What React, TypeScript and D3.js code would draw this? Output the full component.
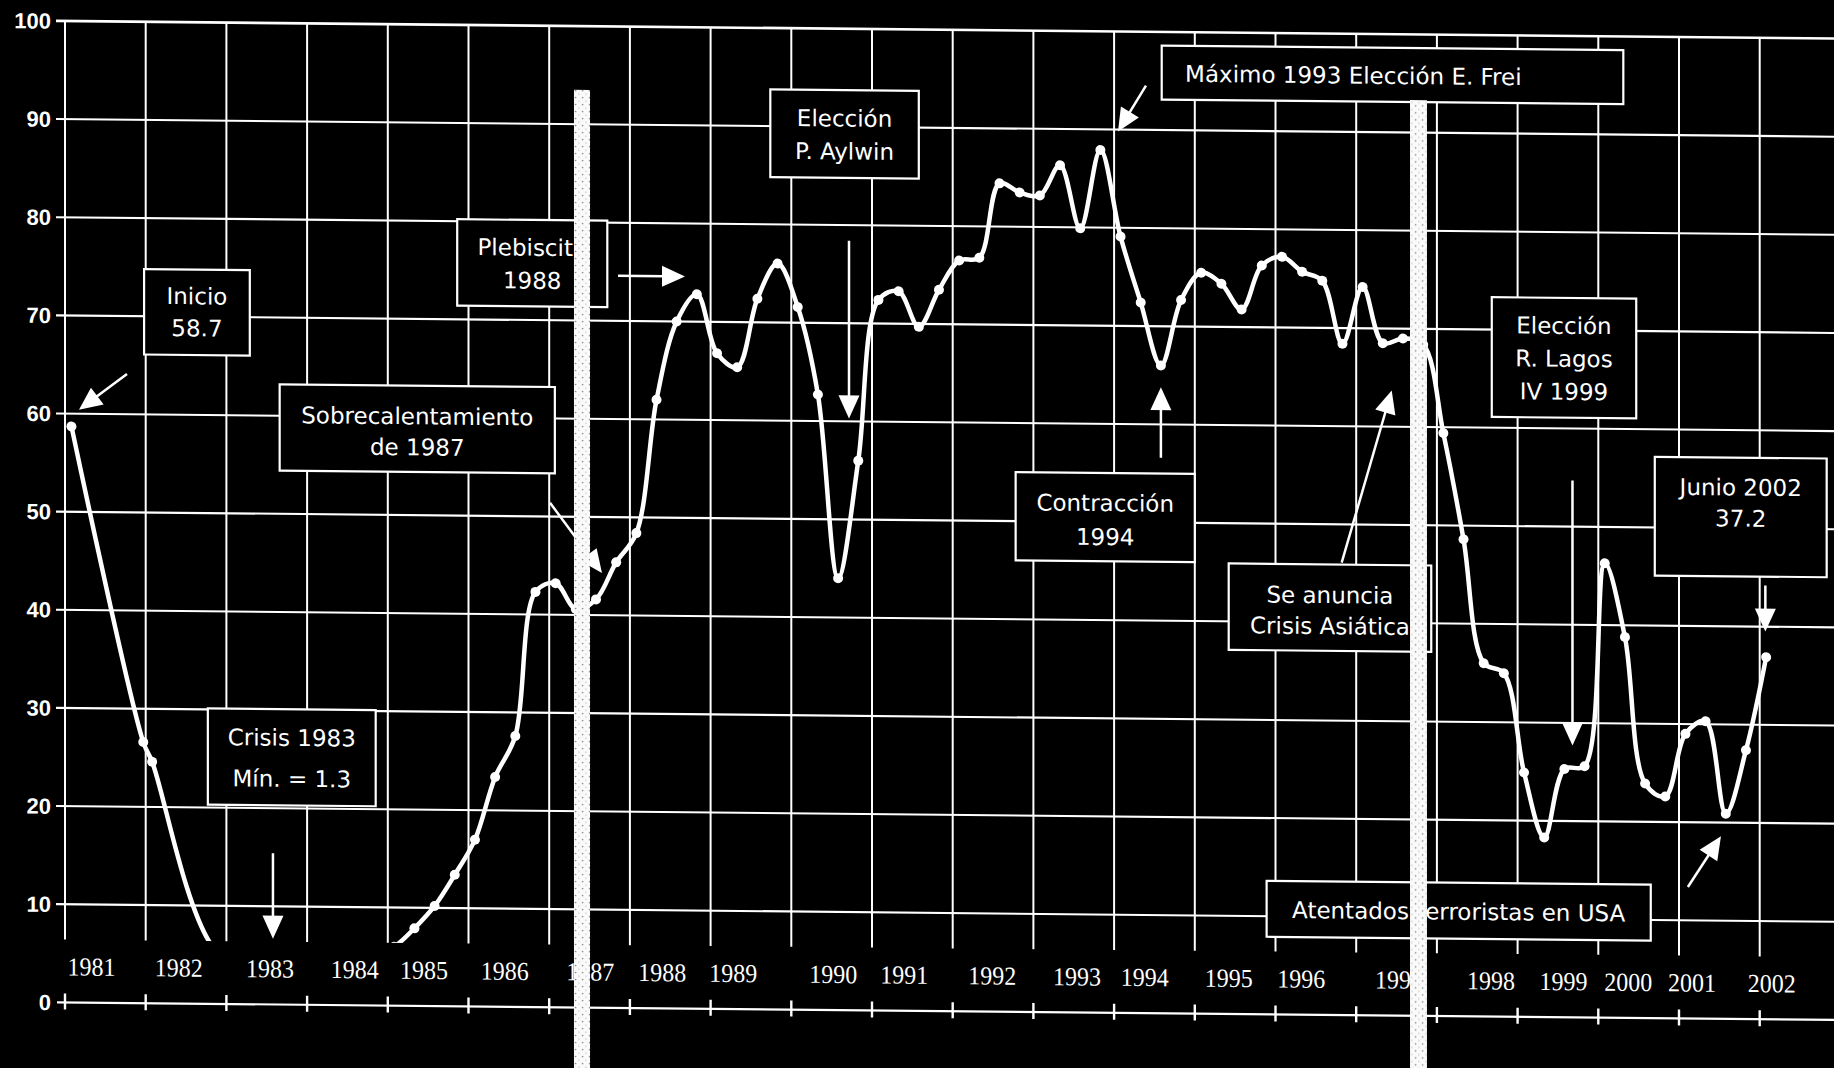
import React from "react";
import * as d3 from "d3";

// ---- data ----
const dates = [
  1981.08, 1981.97, 1982.08, 1982.83, 1983.58, 1984.58, 1985.08, 1985.33, 1985.58, 1985.83,
  1986.08, 1986.33, 1986.58, 1986.83, 1987.08, 1987.33, 1987.58, 1987.83,
  1988.08, 1988.33, 1988.58, 1988.83, 1989.08, 1989.33, 1989.58, 1989.83,
  1990.08, 1990.33, 1990.58, 1990.83, 1991.08, 1991.33, 1991.58, 1991.83,
  1992.08, 1992.33, 1992.58, 1992.83, 1993.08, 1993.33, 1993.58, 1993.83,
  1994.08, 1994.33, 1994.58, 1994.83, 1995.08, 1995.33, 1995.58, 1995.83,
  1996.08, 1996.33, 1996.58, 1996.83, 1997.08, 1997.33, 1997.58, 1997.83,
  1998.08, 1998.33, 1998.58, 1998.83, 1999.08, 1999.33, 1999.58, 1999.83,
  2000.08, 2000.33, 2000.58, 2000.83, 2001.08, 2001.33, 2001.58, 2001.83,
  2002.08,
];
const values = [
  58.7, 26.6, 24.6, 5.8, 1.3, 3.8, 6.0, 7.9, 10.2, 13.4,
  17.0, 23.4, 27.6, 42.3, 43.2, 40.6, 41.6, 45.4,
  48.4, 62.0, 70.0, 72.8, 66.8, 65.4, 72.4, 76.0,
  71.6, 62.7, 44.0, 56.0, 72.4, 73.3, 69.7, 73.5,
  76.5, 76.8, 84.4, 83.5, 83.2, 86.3, 79.9, 87.9,
  79.1, 72.4, 66.0, 72.7, 75.5, 74.4, 71.8, 76.3,
  77.2, 75.7, 74.8, 68.4, 74.2, 68.5, 69.0, 68.4,
  59.4, 48.6, 36.0, 35.0, 24.9, 18.3, 25.3, 25.6,
  46.3, 38.8, 23.9, 22.6, 29.0, 30.3, 20.9, 27.4,
  36.9,
];
const yTicks = [0, 10, 20, 30, 40, 50, 60, 70, 80, 90, 100];
const gridYears = d3.range(1981, 2003);
const yearLabels = [
  "1981", "1982", "1983", "1984", "1985", "1986", "1987", "1988", "1989", "1990", "1991",
  "1992", "1993", "1994", "1995", "1996", "1997", "1998", "1999", "2000", "2001", "2002",
];
const yearLabelAt = [
  1981.33, 1982.41, 1983.54, 1984.59, 1985.45, 1986.45, 1987.51, 1988.40, 1989.28, 1990.52, 1991.40,
  1992.49, 1993.54, 1994.38, 1995.42, 1996.32, 1997.53, 1998.67, 1999.57, 2000.37, 2001.16, 2002.15,
];

// annotation boxes (data units: decimal year, index value)
const boxes = [
  { lines: ["Inicio", "58.7"], x0: 1981.98, x1: 1983.29, v0: 74.8, v1: 66.1, gap: 32, dy: 0 },
  { lines: ["Sobrecalentamiento", "de 1987"], x0: 1983.66, x1: 1987.07, v0: 63.2, v1: 54.4, gap: 31, dy: 3 },
  { lines: ["Plebiscito", "1988"], x0: 1985.86, x1: 1987.72, v0: 80.2, v1: 71.4, gap: 33, dy: 1 },
  { lines: ["Elección", "P. Aylwin"], x0: 1989.74, x1: 1991.58, v0: 93.75, v1: 84.8, gap: 33, dy: 1 },
  { lines: ["Máximo 1993 Elección E. Frei"], x0: 1994.59, x1: 2000.31, v0: 98.6, v1: 93.1, gap: 0, dy: 1, start: 1994.88 },
  { lines: ["Contracción", "1994"], x0: 1992.78, x1: 1995.0, v0: 55.0, v1: 46.0, gap: 34, dy: 3 },
  { lines: ["Se anuncia", "Crisis Asiática"], x0: 1995.42, x1: 1997.93, v0: 45.9, v1: 37.1, gap: 31, dy: 3 },
  { lines: ["Elección", "R. Lagos", "IV 1999"], x0: 1998.68, x1: 2000.47, v0: 73.3, v1: 61.1, gap: 33, dy: 1 },
  { lines: ["Junio 2002", "37.2"], x0: 2000.7, x1: 2002.83, v0: 57.2, v1: 45.1, gap: 31, dy: -14 },
  { lines: ["Atentados terroristas en USA"], x0: 1995.89, x1: 2000.65, v0: 13.6, v1: 7.9, gap: 0, dy: 1 },
  { lines: ["Crisis 1983", "Mín. = 1.3"], x0: 1982.77, x1: 1984.85, v0: 30.1, v1: 20.3, gap: 41, dy: 1 },
];

// arrows: [fromYear, fromValue, toYear, toValue]
const arrows = [
  [1981.768, 64.1, 1981.173, 60.4],
  [1987.853, 74.6, 1988.683, 74.6],
  [1987.01, 51.4, 1987.654, 44.3],
  [1990.715, 78.4, 1990.715, 60.3],
  [1994.395, 94.5, 1994.048, 89.8],
  [1994.58, 56.6, 1994.58, 63.8],
  [1996.82, 46.1, 1997.44, 63.7],
  [1999.68, 54.7, 1999.68, 27.7],
  [2002.07, 44.2, 2002.07, 39.5],
  [2001.11, 13.4, 2001.52, 18.6],
  [1983.577, 15.4, 1983.577, 6.7],
];

// event bars: [startYear, endYear, topValue]
const eventBars = [
  [1987.307, 1987.506, 93.5],
  [1997.667, 1997.877, 93.3],
];

const W = 1834;
const H = 1068;
const CLIP_VALUE = 6.4;

export default function App() {
  const x = d3.scaleLinear().domain([1981, 2002]).range([65, 65 + 80.7 * 21]);
  const y = d3.scaleLinear().domain([0, 100]).range([1002.4, 21.0]);

  const pts = dates.map((d, i) => [x(d), y(values[i])] as [number, number]);
  const line = d3.line().curve(d3.curveCatmullRom.alpha(0.5))(pts) || "";

  const annFont = "'DejaVu Sans', Verdana, sans-serif";
  const yBottom = y(CLIP_VALUE);

  return (
    <div style={{ position: "absolute", left: 0, top: 0, width: W, height: H, background: "#000" }}>
      <svg width={W} height={H} viewBox={`0 0 ${W} ${H}`} style={{ display: "block" }}>
        <defs>
          <clipPath id="plotClip" clipPathUnits="userSpaceOnUse">
            <rect x={0} y={0} width={W + 20} height={yBottom} />
          </clipPath>
          <pattern id="stipple" width="7" height="7" patternUnits="userSpaceOnUse">
            <rect width="7" height="7" fill="#fafafa" />
            <circle cx="1.5" cy="1.5" r="0.8" fill="#777" />
            <circle cx="5" cy="5" r="0.6" fill="#999" />
          </pattern>
        </defs>
        <rect x={0} y={0} width={W} height={H} fill="#000" />
        <g transform="translate(65,0) skewY(0.568) translate(-65,0)">
          {/* horizontal grid */}
          {yTicks.filter((t) => t > 0).map((t) => (
            <line key={"h" + t} x1={56} x2={W + 10} y1={y(t)} y2={y(t)} stroke="#fff" strokeWidth={t === 100 ? 2.6 : 2.1} />
          ))}
          {/* vertical grid */}
          {gridYears.map((yr) => (
            <line key={"v" + yr} x1={x(yr)} x2={x(yr)} y1={y(100)} y2={yBottom} stroke="#fff" strokeWidth={2} />
          ))}
          {/* zero axis */}
          <line x1={57} x2={W + 10} y1={y(0)} y2={y(0)} stroke="#fff" strokeWidth={2.2} />
          {gridYears.map((yr) => (
            <line key={"t" + yr} x1={x(yr)} x2={x(yr)} y1={y(0) - 9} y2={y(0) + 7} stroke="#fff" strokeWidth={2.4} />
          ))}
          {/* y labels */}
          {yTicks.map((t) => (
            <text key={"yl" + t} x={51} y={y(t) + 7.8} textAnchor="end" fill="#fff"
              style={{ font: "bold 22px 'Liberation Sans', Arial, sans-serif" }}>
              {t}
            </text>
          ))}
          {/* year labels */}
          {yearLabels.map((lab, i) => (
            <text key={"xl" + lab} x={x(yearLabelAt[i])} y={y(0) - 27} textAnchor="middle" fill="#fff"
              textLength={48} lengthAdjust="spacingAndGlyphs"
              style={{ font: "26px 'Liberation Serif', 'Times New Roman', serif" }}>
              {lab}
            </text>
          ))}
          {/* series */}
          <g clipPath="url(#plotClip)">
            <path d={line} fill="none" stroke="#fff" strokeWidth={4.5} strokeLinejoin="round" />
            {pts.map((p, i) => (
              <circle key={"m" + i} cx={p[0]} cy={p[1]} r={5} fill="#fff" />
            ))}
          </g>
          {/* annotation boxes */}
          {boxes.map((b, bi) => {
            const bx0 = x(b.x0), bx1 = x(b.x1), by0 = y(b.v0), by1 = y(b.v1);
            const cx = (bx0 + bx1) / 2;
            const cy = (by0 + by1) / 2 + b.dy;
            const n = b.lines.length;
            return (
              <g key={"b" + bi}>
                <rect x={bx0} y={by0} width={bx1 - bx0} height={by1 - by0} fill="#000" stroke="#fff" strokeWidth={2.2} />
                {b.lines.map((ln, li) => (
                  <text key={li} x={b.start ? x(b.start) : cx} y={cy + (li - (n - 1) / 2) * b.gap + 8}
                    textAnchor={b.start ? "start" : "middle"} fill="#fff"
                    style={{ font: `23px ${annFont}` }}>
                    {ln}
                  </text>
                ))}
              </g>
            );
          })}
          {/* arrows */}
          {arrows.map((a, ai) => {
            const x1 = x(a[0]), y1 = y(a[1]), x2 = x(a[2]), y2 = y(a[3]);
            const len = Math.hypot(x2 - x1, y2 - y1);
            const ux = (x2 - x1) / len, uy = (y2 - y1) / len;
            const hl = Math.min(23, len * 0.55), hw = 10.5;
            const bxp = x2 - ux * hl, byp = y2 - uy * hl;
            const head = `M${x2},${y2}L${bxp - uy * hw},${byp + ux * hw}L${bxp + uy * hw},${byp - ux * hw}Z`;
            return (
              <g key={"a" + ai}>
                <line x1={x1} y1={y1} x2={bxp + ux * 2} y2={byp + uy * 2} stroke="#fff" strokeWidth={2.5} />
                <path d={head} fill="#fff" />
              </g>
            );
          })}
          {/* event bars */}
          {eventBars.map((b, i) => (
            <rect key={"eb" + i} x={x(b[0])} y={y(b[2])} width={x(b[1]) - x(b[0])} height={y(-12) - y(b[2])}
              fill="url(#stipple)" />
          ))}
        </g>
      </svg>
    </div>
  );
}
